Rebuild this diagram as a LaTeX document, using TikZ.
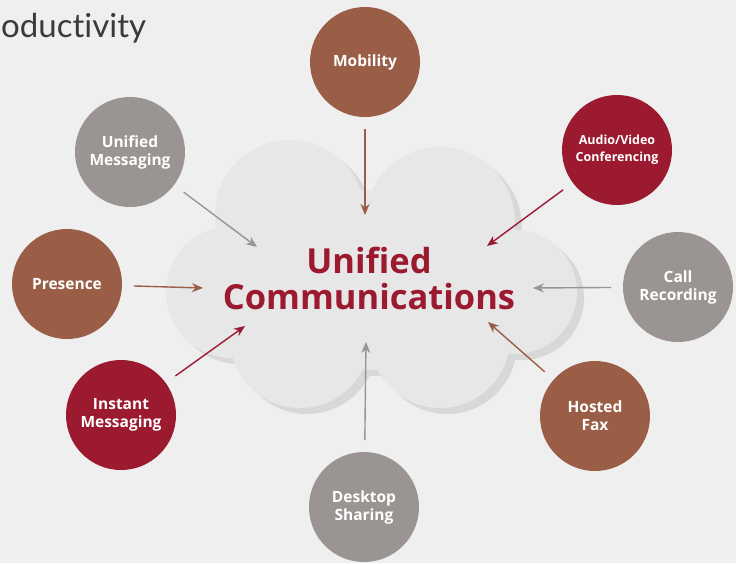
\documentclass[tikz,border=0pt]{standalone}
\usepackage{fontspec}
\setmainfont[Ligatures=NoCommon]{Lato}
\newfontfamily\labelfont[Ligatures=NoCommon]{Open Sans}
\usepackage{tikz}
\usetikzlibrary{arrows.meta}
\definecolor{paper}{HTML}{EFEFEF}
\definecolor{cloudfill}{HTML}{E7E7E7}
\definecolor{cloudshade}{HTML}{D8D8D8}
\definecolor{crimson}{HTML}{9B1A2F}
\definecolor{rust}{HTML}{9A5E46}
\definecolor{stone}{HTML}{9A9592}
\definecolor{ink}{HTML}{3A3A3A}
\tikzset{
  bubble/.style={circle, minimum size=110pt, inner sep=0pt, outer sep=12pt,
    text=white, align=center, font=\labelfont\bfseries\fontsize{15.5}{18}\selectfont},
  hub/.style={text=crimson, align=center, font=\labelfont\bfseries\fontsize{34.5}{36}\selectfont},
  feed/.style={line width=1.4pt, -{Stealth[length=11pt,width=9pt,inset=3.5pt]}},
}
\begin{document}
\begin{tikzpicture}[x=1pt, y=-1pt]
  \fill[paper] (0,0) rectangle (736,563);
  \useasboundingbox (0,0) rectangle (736,563);

  % cloud
  \begin{scope}[shift={(7,6)}]
    \fill[cloudshade] (290,215) circle (75) (440,222) circle (75)
      (232,292) circle (66) (515,292) circle (62)
      (300,338) circle (70) (440,338) circle (70) (370,280) circle (90);
  \end{scope}
  \fill[cloudfill] (290,215) circle (75) (440,222) circle (75)
    (232,292) circle (66) (515,292) circle (62)
    (300,338) circle (70) (440,338) circle (70) (370,280) circle (90);

  \node[text=ink, anchor=base west, inner sep=0pt, font=\fontsize{33}{36}\selectfont] (title) at (1,37) {oductivity};

  \node[hub] (uc) at (369,278) {Unified\\Communications};

  \node[bubble, fill=rust] (mob) at (365,62) {Mobility};
  \node[bubble, fill=stone] (um) at (130,152) {Unified\\Messaging};
  \node[bubble, fill=crimson, font=\labelfont\bfseries\fontsize{12.5}{17}\selectfont] (avc) at (617,150) {Audio/Video\\Conferencing};
  \node[bubble, fill=rust] (pres) at (67,284) {Presence};
  \node[bubble, fill=stone] (rec) at (678,287) {Call\\Recording};
  \node[bubble, fill=crimson] (im) at (121,415) {Instant\\Messaging};
  \node[bubble, fill=rust] (fax) at (595,416) {Hosted\\Fax};
  \node[bubble, fill=stone] (ds) at (364,507) {Desktop\\Sharing};

  \coordinate (mob-in) at (365,215);
  \coordinate (um-in) at (257,247);
  \coordinate (avc-in) at (487,246);
  \coordinate (pres-in) at (203,288);
  \coordinate (rec-in) at (533,288);
  \coordinate (im-in) at (245,326);
  \coordinate (fax-in) at (488,322);
  \coordinate (ds-in) at (366,342);

  \draw[feed, rust] (mob) -- (mob-in);
  \draw[feed, stone] (um) -- (um-in);
  \draw[feed, crimson] (avc) -- (avc-in);
  \draw[feed, rust] (pres) -- (pres-in);
  \draw[feed, stone] (rec) -- (rec-in);
  \draw[feed, crimson] (im) -- (im-in);
  \draw[feed, rust] (fax) -- (fax-in);
  \draw[feed, stone] (ds) -- (ds-in);
\end{tikzpicture}
\end{document}
